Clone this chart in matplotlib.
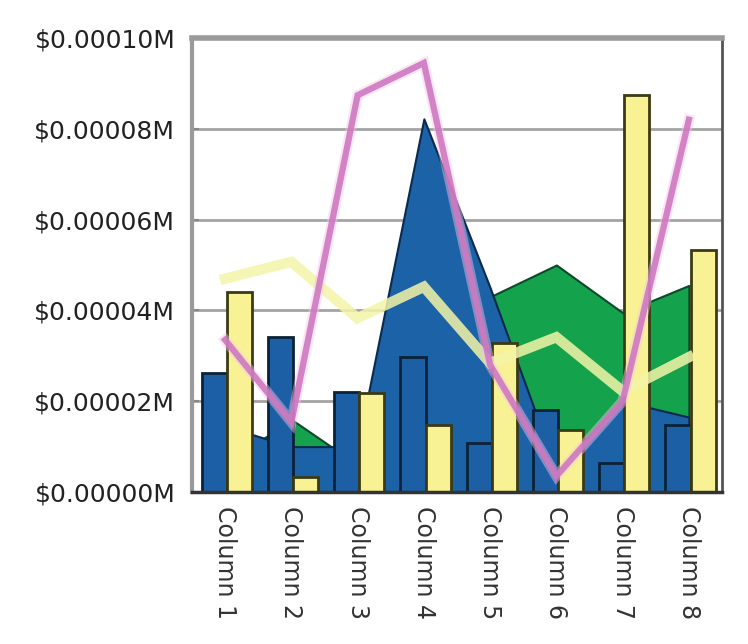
import matplotlib
matplotlib.use("Agg")
import matplotlib.pyplot as plt
import matplotlib.transforms as mtransforms
import numpy as np
from matplotlib.ticker import FuncFormatter

categories = ["Column 1", "Column 2", "Column 3", "Column 4",
              "Column 5", "Column 6", "Column 7", "Column 8"]

# values in millions of dollars
area_green = [0.0000060, 0.0000160, 0.0000060, 0.0000250, 0.0000430, 0.0000500, 0.0000395, 0.0000455]
area_blue = [0.0000145, 0.0000100, 0.0000100, 0.0000822, 0.0000450, 0.0000050, 0.0000200, 0.0000165]
bar_blue = [0.0000262, 0.0000341, 0.0000220, 0.0000297, 0.0000108, 0.0000180, 0.0000064, 0.0000148]
bar_yellow = [0.0000440, 0.0000033, 0.0000218, 0.0000148, 0.0000328, 0.0000137, 0.0000874, 0.0000533]
line_yellow = [0.0000470, 0.0000507, 0.0000383, 0.0000452, 0.0000284, 0.0000341, 0.0000222, 0.0000297]
line_pink = [0.0000335, 0.0000154, 0.0000874, 0.0000945, 0.0000280, 0.0000035, 0.0000200, 0.0000820]

y_ticks = [0.0, 0.00002, 0.00004, 0.00006, 0.00008, 0.00010]

fig = plt.figure(figsize=(7.48, 6.44), dpi=100)
ax = fig.add_axes([192 / 748, 1 - 492 / 644, 530 / 748, 454 / 644])

x = np.arange(len(categories))

# horizontal grid
for t in y_ticks[1:-1]:
    ax.axhline(t, color="#a3a3a3", lw=2, zorder=0.5)

# filled areas
ax.fill_between(x, 0, area_green, facecolor="#14a24c", edgecolor="#0b4a2a",
                lw=1.5, zorder=1)
ax.fill_between(x, 0, area_blue, facecolor="#1c62a6", edgecolor="#0b2a4e",
                lw=1.5, zorder=2)

# grouped bars
bw = 0.38
ax.bar(x - 0.165, bar_blue, width=bw, color="#1d5fa5", edgecolor="#0c2238",
       lw=2, zorder=3)
ax.bar(x + 0.215, bar_yellow, width=bw, color="#f8f294", edgecolor="#3b3a14",
       lw=2, zorder=3)

# lines
ax.plot(x, line_yellow, color="#f4f5a8", lw=7.5, alpha=0.85,
        solid_joinstyle="miter", zorder=4)
ax.plot(x, line_pink, color="#f2c6ea", lw=7.5, alpha=0.45,
        solid_joinstyle="miter", zorder=5)
ax.plot(x, line_pink, color="#cf78c0", lw=4.5, alpha=0.9,
        solid_joinstyle="miter", zorder=5.1)

ax.set_xlim(-0.5, len(categories) - 0.5)
ax.set_ylim(0, 0.0001)
ax.set_yticks(y_ticks)
ax.yaxis.set_major_formatter(FuncFormatter(lambda v, p: f"${v:.5f}M"))
ax.set_xticks(x)
ax.set_xticklabels(categories, rotation=270, fontsize=17, color="#333333")
shift = mtransforms.ScaledTranslation(-7 / 100, 0, fig.dpi_scale_trans)
for lab in ax.get_xticklabels():
    lab.set_transform(lab.get_transform() + shift)

ax.tick_params(axis="y", direction="in", length=5, width=1.5, color="#888888",
               labelsize=18, labelcolor="#222222", pad=12)
ax.tick_params(axis="x", length=0, pad=10)

ax.spines["top"].set_color("#9a9a9a")
ax.spines["top"].set_linewidth(4)
ax.spines["left"].set_color("#9a9a9a")
ax.spines["left"].set_linewidth(3)
ax.spines["right"].set_color("#555555")
ax.spines["right"].set_linewidth(2)
ax.spines["bottom"].set_color("#333333")
ax.spines["bottom"].set_linewidth(2.5)
for s in ax.spines.values():
    s.set_zorder(6)

fig.savefig("out.png", dpi=100, facecolor="white")
